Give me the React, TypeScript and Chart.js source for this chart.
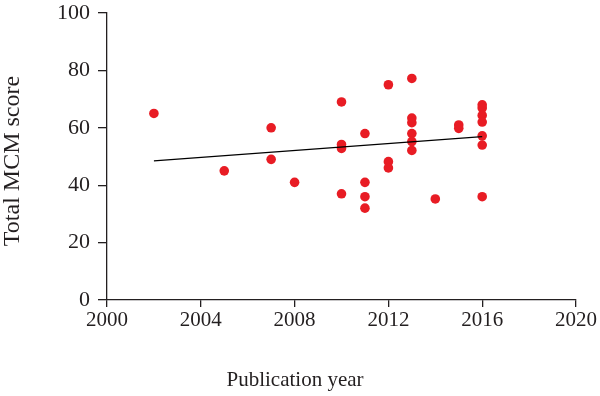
import React, { useEffect, useRef } from "react";
import { Chart, registerables } from "chart.js";

Chart.register(...registerables);

const years = [
  2002, 2005, 2007, 2007, 2008,
  2010, 2010, 2010, 2010,
  2011, 2011, 2011, 2011,
  2012, 2012, 2012,
  2013, 2013, 2013, 2013, 2013, 2013,
  2014, 2015, 2015,
  2016, 2016, 2016, 2016, 2016, 2016, 2016,
];
const scores = [
  65, 45, 60, 49, 41,
  69, 54.2, 52.8, 37,
  58, 41, 36, 32,
  75, 48.2, 46,
  77.2, 63.4, 61.8, 58, 55.2, 52.1,
  35.2, 61, 59.8,
  68, 66.9, 64.3, 62, 57.2, 54, 36,
];
const trendYears = [2002, 2016];
const trendScores = [48.5, 56.9];
const xTicks = [2000, 2004, 2008, 2012, 2016, 2020];
const yTicks = [0, 20, 40, 60, 80, 100];
const xTitle = "Publication year";
const yTitle = "Total MCM score";

const FONT = "'Liberation Serif', 'DejaVu Serif', serif";

export default function App() {
  const ref = useRef<HTMLCanvasElement | null>(null);
  useEffect(() => {
    document.body.style.margin = "0";
    const ctx = ref.current!.getContext("2d")!;
    const titles = {
      id: "customTitles",
      afterDraw(chart: any) {
        const c = chart.ctx;
        c.save();
        c.fillStyle = "#231f20";
        c.font = `21px ${FONT}`;
        c.textAlign = "center";
        c.textBaseline = "middle";
        c.fillText(xTitle, 295, 380);
        c.translate(13, 161);
        c.rotate(-Math.PI / 2);
        c.font = `24px ${FONT}`;
        c.fillText(yTitle, 0, 0);
        c.restore();
      },
    };
    const chart = new Chart(ctx, {
      type: "scatter",
      data: {
        datasets: [
          {
            type: "line",
            data: trendYears.map((x, i) => ({ x, y: trendScores[i] })),
            borderColor: "#000",
            borderWidth: 1.3,
            pointRadius: 0,
            fill: false,
            order: 0,
          } as any,
          {
            data: years.map((x, i) => ({ x, y: scores[i] })),
            backgroundColor: "rgb(232,28,36)",
            borderColor: "rgb(232,28,36)",
            borderWidth: 0,
            pointRadius: 4.8,
            order: 1,
          },
        ],
      },
      options: {
        animation: false,
        responsive: false,
        layout: { padding: { left: 0, right: 24, top: 0, bottom: 0 } },
        plugins: { legend: { display: false }, tooltip: { enabled: false } },
        scales: {
          x: {
            type: "linear",
            min: 2000,
            max: 2020,
            afterBuildTicks: (s: any) => {
              s.ticks = xTicks.map((v) => ({ value: v }));
            },
            afterFit: (s: any) => {
              s.height = 96;
            },
            grid: {
              drawOnChartArea: false,
              drawTicks: true,
              tickLength: 7,
              color: "#231f20",
              lineWidth: 1.3,
            },
            border: { color: "#231f20", width: 1.3 },
            ticks: {
              color: "#231f20",
              font: { family: FONT, size: 21 },
              padding: 1,
              maxRotation: 0,
              callback: (v: any) => String(v),
            },
          },
          y: {
            min: 0,
            max: 100,
            afterBuildTicks: (s: any) => {
              s.ticks = yTicks.map((v) => ({ value: v }));
            },
            afterFit: (s: any) => {
              s.width = 107;
              s.paddingTop = 13;
              s.paddingBottom = 0;
            },
            grid: {
              drawOnChartArea: false,
              drawTicks: true,
              tickLength: 9,
              color: "#231f20",
              lineWidth: 1.3,
            },
            border: { color: "#231f20", width: 1.3 },
            ticks: {
              color: "#231f20",
              font: { family: FONT, size: 22 },
              padding: 8,
              callback: (v: any) => String(v),
            },
          },
        },
      },
      plugins: [titles],
    });
    return () => chart.destroy();
  }, []);
  return (
    <div style={{ position: "absolute", left: 0, top: 0, width: 600, height: 396, background: "#fff" }}>
      <canvas ref={ref} width={600} height={396} />
    </div>
  );
}
